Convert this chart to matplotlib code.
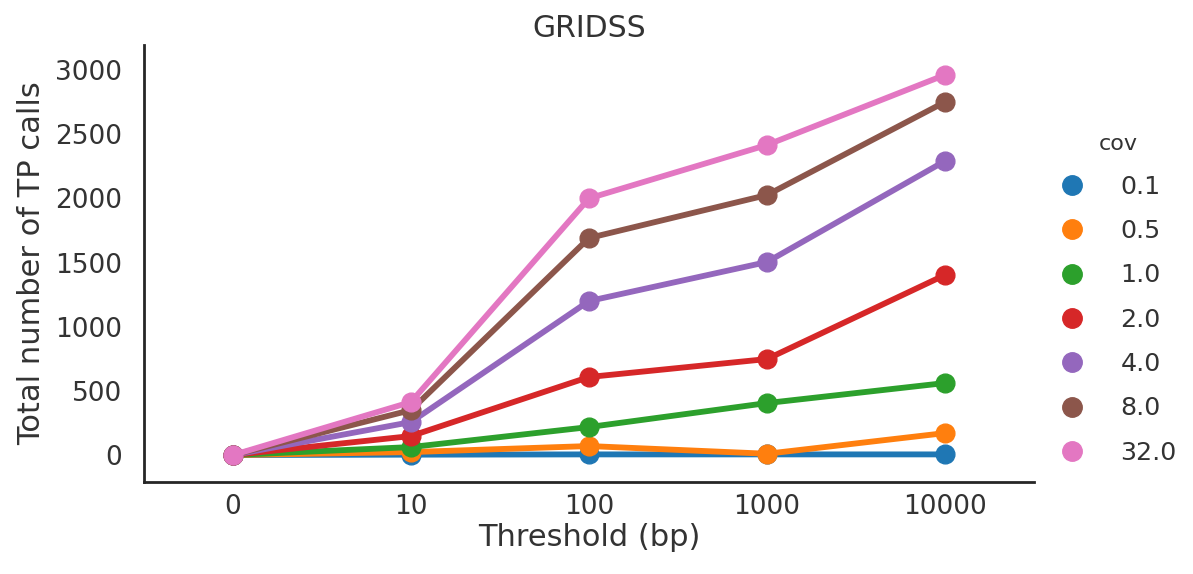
import matplotlib
matplotlib.use("Agg")
import matplotlib.pyplot as plt
import numpy as np

thresholds = ["0", "10", "100", "1000", "10000"]
covs = ["0.1", "0.5", "1.0", "2.0", "4.0", "8.0", "32.0"]
tp_cov_0_1 = [0, 3, 5, 5, 5]
tp_cov_0_5 = [0, 23, 70, 10, 171]
tp_cov_1_0 = [0, 62, 218, 405, 561]
tp_cov_2_0 = [0, 148, 608, 748, 1403]
tp_cov_4_0 = [0, 257, 1200, 1504, 2291]
tp_cov_8_0 = [0, 350, 1691, 2026, 2751]
tp_cov_32_0 = [0, 413, 2000, 2416, 2962]
series = [tp_cov_0_1, tp_cov_0_5, tp_cov_1_0, tp_cov_2_0, tp_cov_4_0, tp_cov_8_0, tp_cov_32_0]
colors = ["#1f77b4", "#ff7f0e", "#2ca02c", "#d62728", "#9467bd", "#8c564b", "#e377c2"]

plt.rcParams['font.family'] = ['DejaVu Sans']
fig = plt.figure(figsize=(11.93, 5.74), dpi=100)
ax = fig.add_axes([0.1207, 0.1603, 0.7460, 0.7613])
x = np.arange(len(thresholds))
for lab, vals, c in zip(covs, series, colors):
    ax.plot(x, vals, color=c, lw=4.2, marker='o', ms=13.5, label=lab, solid_capstyle='round')

ax.set_xlim(-0.5, len(thresholds) - 0.5)
ax.set_ylim(-210, 3195)
ax.set_xticks(x)
ax.set_xticklabels(thresholds)
ax.set_yticks([0, 500, 1000, 1500, 2000, 2500, 3000])
ax.tick_params(axis='both', length=0, labelsize=19, colors='#333333')
ax.tick_params(axis='y', pad=16)
ax.tick_params(axis='x', pad=9)
for s in ['top', 'right']:
    ax.spines[s].set_visible(False)
for s in ['left', 'bottom']:
    ax.spines[s].set_color('#262626')
    ax.spines[s].set_linewidth(2.0)
ax.set_xlabel("Threshold (bp)", fontsize=22, color='#333333', labelpad=2)
ax.set_ylabel("Total number of TP calls", fontsize=22, color='#333333', labelpad=6)
ax.set_title("GRIDSS", fontsize=21.5, color='#333333', pad=6)

handles = [plt.Line2D([], [], color=c, marker='o', ms=14, lw=0) for c in colors]
leg = fig.legend(handles, covs, title="cov", loc='center left', bbox_to_anchor=(0.869, 0.478),
                 frameon=False, fontsize=18.3, title_fontsize=16, labelspacing=0.8,
                 handletextpad=1.4, handlelength=1.0)
for t in leg.get_texts():
    t.set_color('#333333')
leg.get_title().set_color('#333333')

fig.savefig("out.png", dpi=100)
